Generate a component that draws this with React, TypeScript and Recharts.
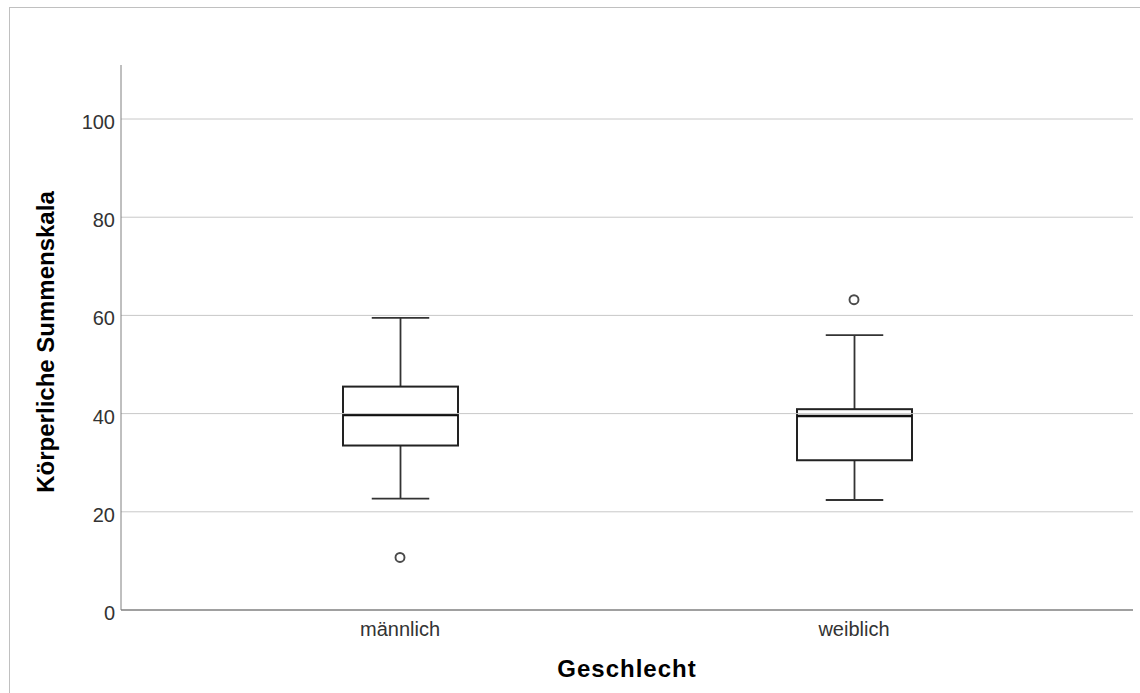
import React from "react";
import { ComposedChart, Bar, Scatter, XAxis, YAxis, ReferenceLine } from "recharts";

const categories = ["männlich", "weiblich"];
const lowerWhisker = [22.7, 22.4];
const quartile1 = [33.5, 30.5];
const medians = [39.7, 39.5];
const quartile3 = [45.5, 40.9];
const upperWhisker = [59.5, 56.0];
const outliers = [10.7, 63.2];
const yTicks = [0, 20, 40, 60, 80, 100];

const data = categories.map((name, i) => ({
  name,
  box: [quartile1[i], quartile3[i]],
  min: lowerWhisker[i],
  q1: quartile1[i],
  median: medians[i],
  q3: quartile3[i],
  max: upperWhisker[i],
  outlier: outliers[i]
}));

const FONT = "'Liberation Sans', Arial, Helvetica, sans-serif";

function BoxShape(props: any) {
  const { x, y, width, height, payload } = props;
  const { min, q1, median, q3, max } = payload;
  // pixels per unit, taken from the bar that the y scale drew for [q1, q3]
  const k = height / (q3 - q1);
  const yOf = (v: number) => y + (q3 - v) * k;
  const cx = x + width / 2;
  const cap = width / 4;
  return (
    <g>
      <line x1={cx} x2={cx} y1={yOf(max)} y2={y} stroke="#333" strokeWidth={1.8} />
      <line x1={cx} x2={cx} y1={y + height} y2={yOf(min)} stroke="#333" strokeWidth={1.8} />
      <line x1={cx - cap} x2={cx + cap} y1={yOf(max)} y2={yOf(max)} stroke="#333" strokeWidth={1.8} />
      <line x1={cx - cap} x2={cx + cap} y1={yOf(min)} y2={yOf(min)} stroke="#333" strokeWidth={1.8} />
      <rect x={x} y={y} width={width} height={height} fill="#fff" stroke="#222" strokeWidth={2} />
      <line x1={x} x2={x + width} y1={yOf(median)} y2={yOf(median)} stroke="#111" strokeWidth={2.4} />
    </g>
  );
}

function OutlierDot(props: any) {
  const { cx, cy } = props;
  return <circle cx={cx} cy={cy} r={4.5} fill="#fff" stroke="#4a4a4a" strokeWidth={1.9} />;
}

function XTick(props: any) {
  const { x, y, payload } = props;
  return (
    <text x={x} y={y + 26} textAnchor="middle" fill="#333" fontSize={20} fontFamily={FONT}>
      {payload.value}
    </text>
  );
}

function YTick(props: any) {
  const { x, y, payload } = props;
  return (
    <text x={x - 6} y={y + 10} textAnchor="end" fill="#333" fontSize={20} fontFamily={FONT}>
      {payload.value}
    </text>
  );
}

export default function App() {
  return (
    <div
      style={{
        position: "absolute",
        left: 0,
        top: 0,
        width: 1140,
        height: 693,
        overflow: "hidden",
        background: "#fff"
      }}
    >
      <div style={{ position: "absolute", left: 0, top: 0 }}>
        <ComposedChart width={1140} height={693} data={data} margin={{ top: 65, right: 7, bottom: 0, left: 0 }}>
          <XAxis
            dataKey="name"
            height={83}
            padding={{ left: 52, right: 52 }}
            tickSize={0}
            tickMargin={0}
            tickLine={false}
            axisLine={{ stroke: "#808080", strokeWidth: 1.6 }}
            tick={<XTick />}
            label={{
              content: () => (
                <text
                  x={627}
                  y={677}
                  textAnchor="middle"
                  fill="#000"
                  fontSize={24}
                  fontWeight="bold"
                  letterSpacing={1}
                  fontFamily={FONT}
                >
                  Geschlecht
                </text>
              )
            }}
          />
          <YAxis
            type="number"
            domain={[0, 111]}
            ticks={yTicks}
            width={121}
            tickSize={0}
            tickMargin={0}
            tickLine={false}
            axisLine={{ stroke: "#808080" }}
            tick={<YTick />}
            label={{
              content: () => (
                <text
                  x={54}
                  y={342}
                  transform="rotate(-90 54 342)"
                  textAnchor="middle"
                  fill="#000"
                  fontSize={24}
                  fontWeight="bold"
                  fontFamily={FONT}
                >
                  Körperliche Summenskala
                </text>
              )
            }}
          />
          {yTicks
            .filter((t) => t > 0)
            .map((t) => (
              <ReferenceLine key={t} y={t} stroke="#c8c8c8" strokeWidth={1} />
            ))}
          <Bar dataKey="box" barSize={115} shape={<BoxShape />} isAnimationActive={false} />
          <Scatter dataKey="outlier" shape={<OutlierDot />} isAnimationActive={false} />
        </ComposedChart>
      </div>
      <div
        style={{
          position: "absolute",
          left: 9,
          top: 7,
          width: 1200,
          height: 800,
          borderTop: "1px solid #c0c0c0",
          borderLeft: "1px solid #c0c0c0",
          pointerEvents: "none"
        }}
      />
    </div>
  );
}
